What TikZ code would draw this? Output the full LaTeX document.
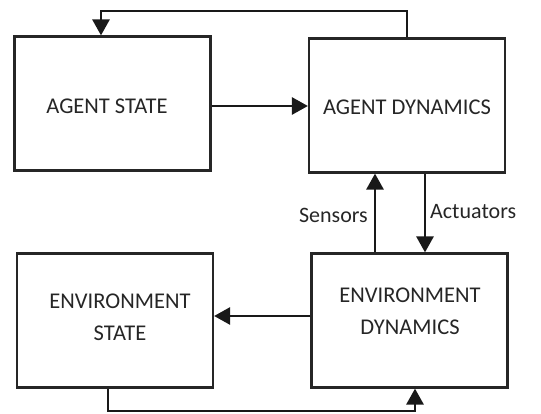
\documentclass[tikz,border=0pt]{standalone}
\usepackage{fontspec}
\setmainfont{Carlito}
\usetikzlibrary{arrows.meta}
\begin{document}
\begin{tikzpicture}[x=1pt,y=-1pt,
  box/.style={draw=black!85,line width=2.2pt,minimum width=196pt,minimum height=134pt,inner sep=0pt},
  txt/.style={font=\fontsize{22.5}{32}\selectfont,text=black!85,align=center,inner sep=0pt},
  lbl/.style={font=\fontsize{22}{26}\selectfont,text=black!85,inner sep=0pt},
  conn/.style={line width=2.8pt,draw=black!90,-{Triangle[width=17pt,length=16pt]}}]
\useasboundingbox (0,0) rectangle (541,414);
\node[box] (AS) at (112.5,103.5) {};
\node[box] (AD) at (407,105.5) {};
\node[box] (ES) at (115,320.5) {};
\node[box] (ED) at (409.5,320.5) {};
\node[txt] (tAS) at (107,106) {AGENT STATE};
\node[txt] (tAD) at (407,107) {AGENT DYNAMICS};
\node[txt] (tES) at (120,317) {ENVIRONMENT\\STATE};
\node[txt] (tED) at (410,311.5) {ENVIRONMENT\\DYNAMICS};
\coordinate (top1) at (407,11);
\coordinate (top2) at (101,11);
\coordinate (bot1) at (108,411);
\coordinate (bot2) at (415,411);
\draw[conn] (AD.north) -- (top1) -- (top2) -- (top2 |- AS.north);
\draw[conn] (AS.east |- 0,106) -- (AD.west |- 0,106);
\draw[conn] (375,0 |- ED.north) -- (375,0 |- AD.south);
\draw[conn] (425,0 |- AD.south) -- (425,0 |- ED.north);
\draw[conn] (ED.west |- 0,316) -- (ES.east |- 0,316);
\draw[conn] (bot1 |- ES.south) -- (bot1) -- (bot2) -- (bot2 |- ED.south);
\node[lbl,anchor=east] (sens) at (368,215) {Sensors};
\node[lbl,anchor=west] (act) at (430,212) {Actuators};
\end{tikzpicture}
\end{document}
